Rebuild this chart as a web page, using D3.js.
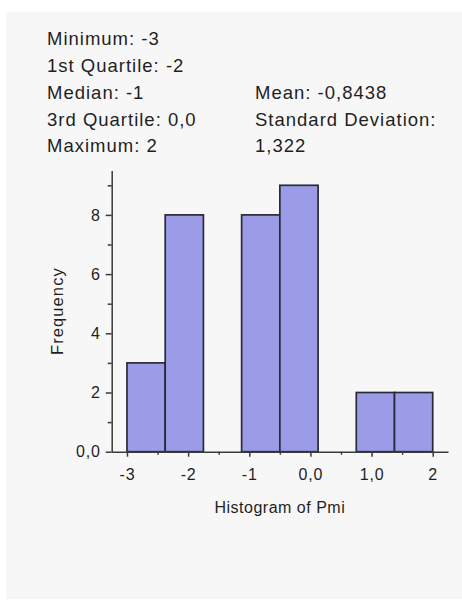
<!DOCTYPE html>
<html>
<head>
<meta charset="utf-8">
<script src="https://cdn.jsdelivr.net/npm/d3@7"></script>
<style>
  body { margin: 0; background: #fff; }
  svg text { font-family: "Liberation Sans", Arial, Helvetica, sans-serif; fill: #1f1f1f; }
</style>
</head>
<body>
<script>
// histogram bins (edges) and counts
var binEdges = [-3, -2.375, -1.75, -1.125, -0.5, 0.125, 0.75, 1.375, 2];
var counts = [3, 8, 0, 8, 9, 0, 2, 2];

// axis ticks
var xMajor = [-3, -2, -1, 0, 1, 2];
var xTickLabels = ["-3", "-2", "-1", "0,0", "1,0", "2"];
var xMinor = [-2.5, -1.5, -0.5, 0.5, 1.5];
var yMajor = [0, 2, 4, 6, 8];
var yTickLabels = ["0,0", "2", "4", "6", "8"];
var yMinor = [1, 3, 5, 7, 9];

// summary text
var statsLeft = ["Minimum: -3", "1st Quartile: -2", "Median: -1", "3rd Quartile: 0,0", "Maximum: 2"];
var statsRight = ["", "", "Mean: -0,8438", "Standard Deviation:", "1,322"];

var W = 462, H = 601;

var svg = d3.select("body").append("svg")
    .attr("width", W)
    .attr("height", H);

// light grey panel
svg.append("rect")
    .attr("x", 6).attr("y", 12)
    .attr("width", W - 6).attr("height", 587)
    .attr("fill", "#f7f7f7");

// stats block
var lineY = [45, 72, 99, 126, 152];
svg.selectAll(".statL")
    .data(statsLeft)
    .enter().append("text")
    .attr("class", "statL")
    .attr("x", 47)
    .attr("y", function(d, i) { return lineY[i]; })
    .style("font-size", "18.5px")
    .style("letter-spacing", "1px")
    .text(function(d) { return d; });

svg.selectAll(".statR")
    .data(statsRight)
    .enter().append("text")
    .attr("class", "statR")
    .attr("x", 255)
    .attr("y", function(d, i) { return lineY[i]; })
    .style("font-size", "18.5px")
    .style("letter-spacing", "1px")
    .text(function(d) { return d; });

// scales
var x = d3.scaleLinear().domain([-3.25, 2.25]).range([111.7, 448]);
var y = d3.scaleLinear().domain([0, 9.5]).range([451.7, 170.5]);

var bins = counts.map(function(c, i) {
    return { x0: binEdges[i], x1: binEdges[i + 1], count: c };
});

// bars
svg.selectAll(".bar")
    .data(bins.filter(function(d) { return d.count > 0; }))
    .enter().append("rect")
    .attr("class", "bar")
    .attr("x", function(d) { return x(d.x0); })
    .attr("y", function(d) { return y(d.count); })
    .attr("width", function(d) { return x(d.x1) - x(d.x0); })
    .attr("height", function(d) { return y(0) - y(d.count); })
    .attr("fill", "#9b9be8")
    .attr("stroke", "#2a2a36")
    .attr("stroke-width", 1.7);

// minor ticks
svg.append("g")
    .attr("transform", "translate(0," + y(0) + ")")
    .call(d3.axisBottom(x).tickValues(xMinor).tickSize(3).tickSizeOuter(0).tickFormat(""))
    .call(function(g) { g.select(".domain").remove(); });

svg.append("g")
    .attr("transform", "translate(" + x(-3.25) + ",0)")
    .call(d3.axisLeft(y).tickValues(yMinor).tickSize(4).tickSizeOuter(0).tickFormat(""))
    .call(function(g) { g.select(".domain").remove(); });

// major axes
svg.append("g")
    .attr("transform", "translate(0," + y(0) + ")")
    .call(d3.axisBottom(x).tickValues(xMajor).tickSize(5).tickSizeOuter(0).tickPadding(12)
        .tickFormat(function(d, i) { return xTickLabels[i]; }));

svg.append("g")
    .attr("transform", "translate(" + x(-3.25) + ",0)")
    .call(d3.axisLeft(y).tickValues(yMajor).tickSize(6).tickSizeOuter(0).tickPadding(5)
        .tickFormat(function(d, i) { return yTickLabels[i]; }));

svg.selectAll(".tick line").attr("stroke", "#3a3a3a").attr("stroke-width", 1.5);
svg.selectAll(".domain").attr("stroke", "#3a3a3a").attr("stroke-width", 1.5);
svg.selectAll(".tick text")
    .style("font-size", "16px")
    .style("letter-spacing", "0.8px")
    .attr("fill", "#1f1f1f");

// axis titles
svg.append("text")
    .attr("x", (x(-3.25) + x(2.25)) / 2)
    .attr("y", 513)
    .attr("text-anchor", "middle")
    .style("font-size", "16px")
    .style("letter-spacing", "0.5px")
    .text("Histogram of Pmi");

svg.append("text")
    .attr("transform", "translate(63," + (y(0) + y(9.5)) / 2 + ") rotate(-90)")
    .attr("text-anchor", "middle")
    .style("font-size", "16.5px")
    .style("letter-spacing", "1.1px")
    .text("Frequency");
</script>
</body>
</html>
